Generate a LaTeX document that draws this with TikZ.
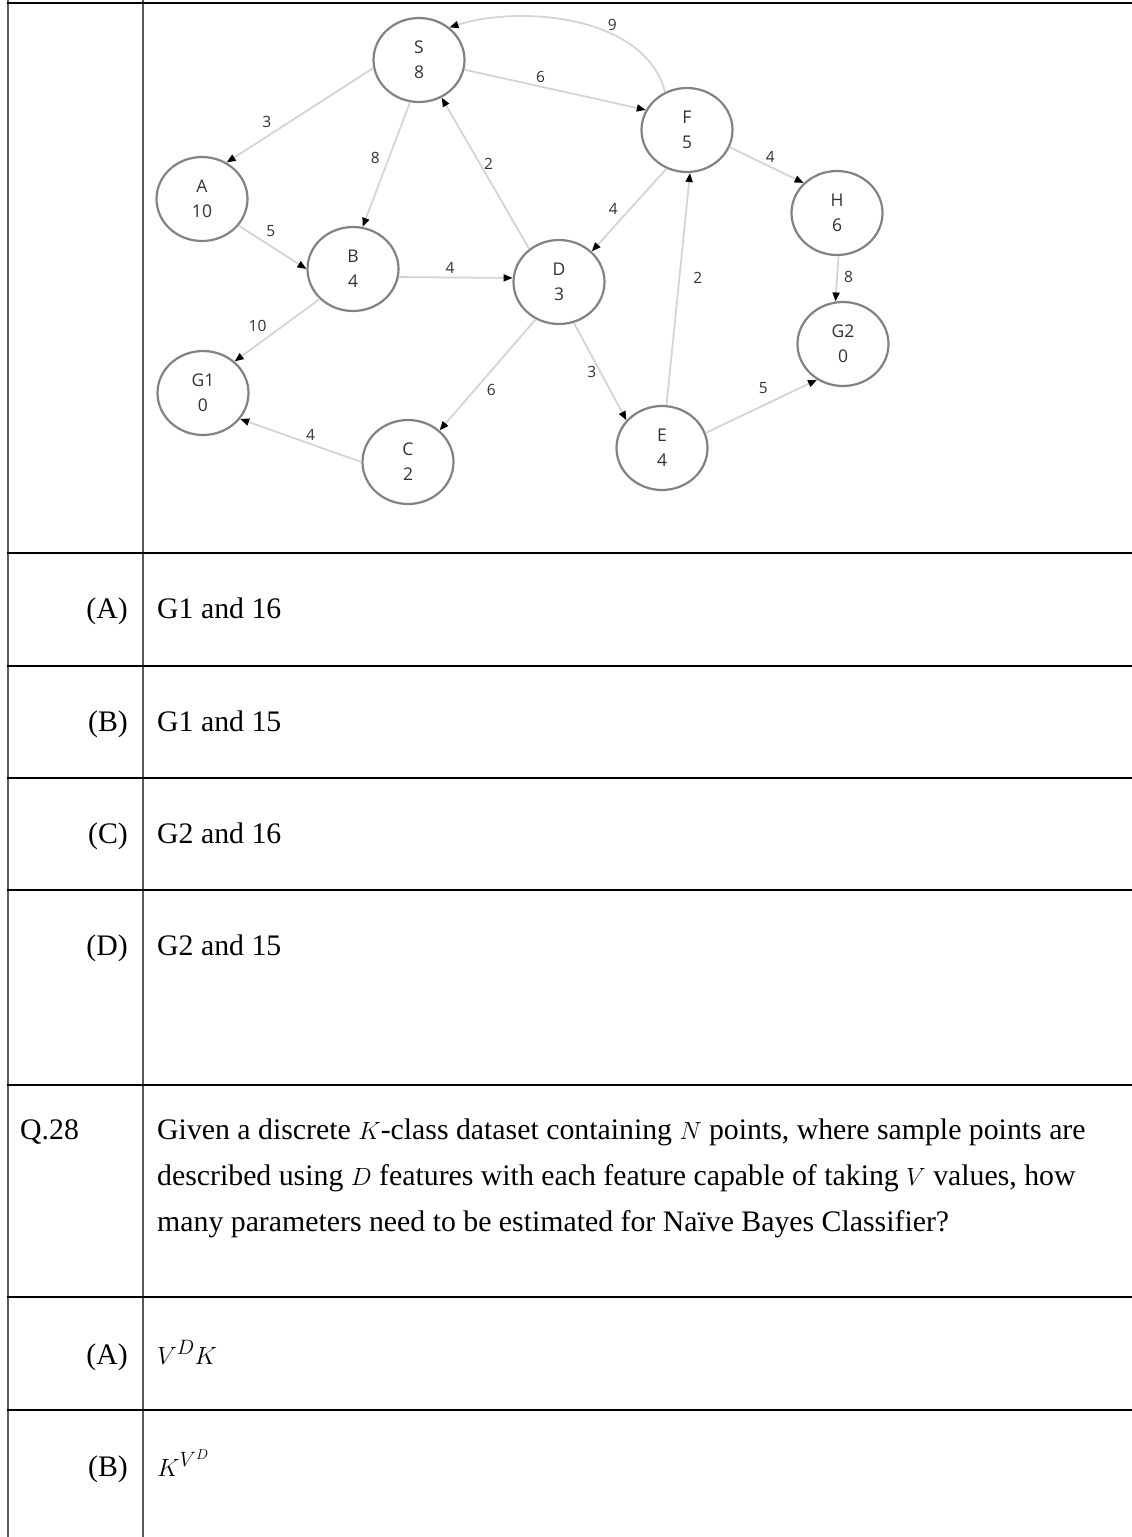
\documentclass[tikz,border=0pt]{standalone}
\usepackage{fontspec}
\setmainfont{Liberation Serif}
\newfontfamily\graphfont{Open Sans}
\usetikzlibrary{arrows.meta,positioning,shapes.geometric}
\definecolor{RuleGrey}{RGB}{90,90,90}
\definecolor{EdgeGrey}{RGB}{212,212,212}
\definecolor{RingGrey}{RGB}{130,130,130}
\definecolor{InkGrey}{RGB}{50,50,50}

\begin{document}
\begin{tikzpicture}[
  x=1pt, y=-1pt, % one unit = one pixel of the page, y going down
  vertex/.style={ellipse, draw=RingGrey, line width=2.2pt, fill=white, inner sep=0pt,
    minimum width=91pt, minimum height=84pt, align=center, text=InkGrey,
    font=\graphfont\fontsize{17.5}{25}\selectfont},
  link/.style={draw=EdgeGrey, line width=1.8pt, -{Triangle[length=9pt,width=7pt,color=black]}},
  cost/.style={font=\graphfont\fontsize{15.5}{15.5}\selectfont, text=InkGrey, inner sep=3pt},
  hrule/.style={line width=2.2pt, draw=black},
  vrule/.style={line width=2pt, draw=RuleGrey},
  optlabel/.style={anchor=base east, inner sep=0pt, font=\fontsize{29.8}{46}\selectfont},
  opttext/.style={anchor=base west, inner sep=0pt, font=\fontsize{29.8}{46}\selectfont}
]
\useasboundingbox (0,0) rectangle (1132,1537);

% --- Table rules ---
\draw[vrule] (7.5,0) -- (7.5,1537);
\draw[vrule] (143,0) -- (143,1537);
\foreach \yy in {3,553,666,778,890,1085,1297,1410}
  \draw[hrule] (6.5,\yy) -- (1132,\yy);

% --- Search graph ---
\node[vertex] (S) at (419,60) {S\\8};
\node[vertex] (A) at (202,199) {A\\10};
\node[vertex] (B) at (353,269) {B\\4};
\node[vertex] (G1) at (203,393) {G1\\0};
\node[vertex] (C) at (408,462) {C\\2};
\node[vertex] (D) at (559,282) {D\\3};
\node[vertex] (E) at (662,448) {E\\4};
\node[vertex] (F) at (687,130) {F\\5};
\node[vertex] (H) at (837,213) {H\\6};
\node[vertex] (G2) at (843,344) {G2\\0};

% edges leave and enter the rings at fixed ports
\draw[link] (S.190) -- (A.56) node[cost, pos=.67, above left] {3};
\draw[link] (S.258) -- (B.77) node[cost, pos=.45, left, xshift=-5pt] {8};
\draw[link] (D.132) -- (S.301) node[cost, pos=.56, right] {2};
\draw[link] (S.348) -- (F.154) node[cost, pos=.42, above] {6};
\draw[link] (F.120) .. controls (645,15) and (520,5) .. (S.47) node[cost, pos=.35, above] {9};
\draw[link] (A.324) -- (B.180) node[cost, pos=.35, above right] {5};
\draw[link] (B.350) -- (D.175) node[cost, pos=.45, above] {4};
\draw[link] (B.222) -- (G1.45) node[cost, pos=.58, above left] {10};
\draw[link] (F.242) -- (D.43) node[cost, pos=.6, above left] {4};
\draw[link] (F.338) -- (H.138) node[cost, pos=.55, above] {4};
\draw[link] (E.84) -- (F.274) node[cost, pos=.55, right, xshift=10pt] {2};
\draw[link] (H.272) -- (G2.100) node[cost, pos=.45, right, xshift=3pt] {8};
\draw[link] (D.238) -- (C.45) node[cost, pos=.55, below right] {6};
\draw[link] (C.180) -- (G1.325) node[cost, pos=.42, above] {4};
\draw[link] (D.290) -- (E.142) node[cost, pos=.5, left] {3};
\draw[link] (E.19) -- (G2.234) node[cost, pos=.58, above, xshift=-7pt, yshift=5pt] {5};

% --- Options of the graph question ---
\node[optlabel] (optA) at (128,618) {(A)};
\node[opttext] (ansA) at (157,618) {G1 and 16};
\node[optlabel] (optB) at (128,731) {(B)};
\node[opttext] (ansB) at (157,731) {G1 and 15};
\node[optlabel] (optC) at (128,843) {(C)};
\node[opttext] (ansC) at (157,843) {G2 and 16};
\node[optlabel] (optD) at (128,955) {(D)};
\node[opttext] (ansD) at (157,955) {G2 and 15};

% --- Q.28 ---
\node[opttext] (qnum) at (20,1139) {Q.28};
\node[opttext] (qline1) at (157,1139) {Given a discrete $K$-class dataset containing $N$ points, where sample points are};
\node[opttext] (qline2) at ([yshift=-46pt]qline1.base west) {described using $D$ features with each feature capable of taking $V$ values, how};
\node[opttext] (qline3) at ([yshift=-46pt]qline2.base west) {many parameters need to be estimated for Naïve Bayes Classifier?};
\node[optlabel] (optQA) at (128,1364) {(A)};
\node[opttext] (ansQA) at (157,1364) {$V^D K$};
\node[optlabel] (optQB) at (128,1476) {(B)};
\node[opttext] (ansQB) at (157,1476) {$K^{V^D}$};

\end{tikzpicture}
\end{document}
